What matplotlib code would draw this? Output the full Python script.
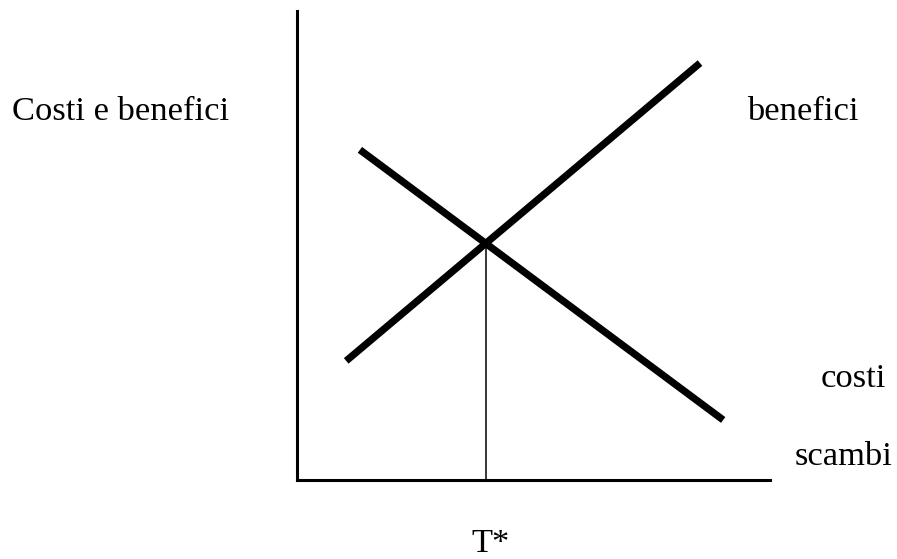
import matplotlib
matplotlib.use("Agg")
import matplotlib.pyplot as plt
import numpy as np

# Straight-line curves (endpoints in "scambi" / "costi e benefici" units)
benefici_x = [1.04, 8.52]
benefici_y = [2.54, 8.89]
costi_x = [1.33, 9.01]
costi_y = [7.04, 1.28]

W, H = 897, 559
fig = plt.figure(figsize=(W / 100, H / 100), dpi=100)
ax = fig.add_axes([297 / W, (H - 480) / H, (770 - 297) / W, (480 - 11) / H])
ax.set_xlim(0, 10)
ax.set_ylim(0, 10)
for s in ("top", "right"):
    ax.spines[s].set_visible(False)
for s in ("left", "bottom"):
    ax.spines[s].set_linewidth(2.2)
    ax.spines[s].set_color("black")
ax.set_xticks([])
ax.set_yticks([])
ax.patch.set_alpha(0)

ax.plot(benefici_x, benefici_y, color="black", lw=5.2, solid_capstyle="butt")
ax.plot(costi_x, costi_y, color="black", lw=5.2, solid_capstyle="butt")

# Equilibrium T*: intersection of the two lines
mb = (benefici_y[1] - benefici_y[0]) / (benefici_x[1] - benefici_x[0])
mc = (costi_y[1] - costi_y[0]) / (costi_x[1] - costi_x[0])
bb = benefici_y[0] - mb * benefici_x[0]
bc = costi_y[0] - mc * costi_x[0]
tx = (bc - bb) / (mb - mc)
ty = mb * tx + bb
ax.plot([tx, tx], [0, ty], color="black", lw=1.1)

font = dict(family="Liberation Serif", fontsize=24.8, color="black", va="baseline")
fig.text(12 / W, 1 - 120 / H, "Costi e benefici", ha="left", **font)
fig.text(747 / W, 1 - 120 / H, "benefici", ha="left", **font)
fig.text(821 / W, 1 - 387 / H, "costi", ha="left", **font)
fig.text(795 / W, 1 - 465 / H, "scambi", ha="left", **font)
fig.text(471 / W, 1 - 552 / H, "T*", ha="left", **font)

fig.savefig("out.png", dpi=100, facecolor="white")
